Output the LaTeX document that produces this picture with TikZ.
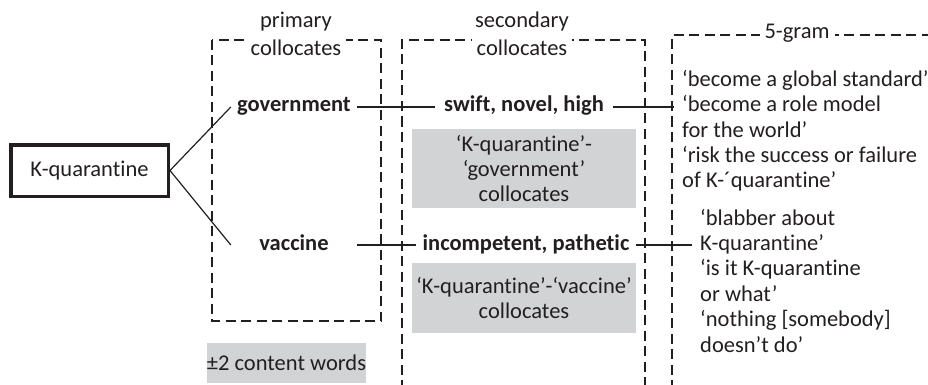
\documentclass[tikz,border=0pt]{standalone}
\usepackage{fontspec}
\setmainfont[Ligatures={NoCommon}]{Carlito}
\definecolor{txt}{HTML}{231F20}
\definecolor{graybox}{HTML}{D1D3D4}
\begin{document}
\begin{tikzpicture}[x=1pt,y=-1pt,
  every node/.style={text=txt, font=\fontsize{22.5}{25}\selectfont},
  dbox/.style={draw=txt, line width=1.2pt, dash pattern=on 10pt off 5.5pt},
  conn/.style={draw=txt, line width=1.2pt},
  word/.style={font=\fontsize{22.5}{25}\selectfont\bfseries, inner ysep=0pt, text height=15pt, text depth=5pt},
  gbox/.style={fill=graybox, inner sep=0pt, align=center},
  ttl/.style={fill=white, inner xsep=5pt, inner ysep=1pt},
  ng/.style={anchor=west, inner xsep=8pt, inner ysep=0pt, text height=15pt, text depth=5pt}
]
\fill[white] (0,0) rectangle (928,385);
\clip (0,0) rectangle (928,385);
\useasboundingbox (0,0) rectangle (928,385);

% dashed frames
\draw[dbox] (212,40) rectangle (381,321);
\draw[dbox] (402,390) -- (402,40) -- (645,40) -- (645,390);
\draw[dbox] (672,390) -- (672,35) -- (935,35);

% titles
\node (t1a) at (296,22) {primary};
\node[ttl] (t1b) at (296,48) {collocates};
\node (t2a) at (522,22) {secondary};
\node[ttl] (t2b) at (522,48) {collocates};
\node[ttl] (t3) at (797,33) {5-gram};

% main node
\node[draw=txt, line width=3.5pt, minimum width=157.5pt, minimum height=51.5pt, inner sep=0pt] (kq) at (89.5,170.5) {K-quarantine};

% primary collocates
\node[word, minimum width=126pt, inner xsep=0pt] (gov) at (294,107) {government};
\node[word, minimum width=126pt, inner xsep=0pt] (vac) at (294,245) {vaccine};

% secondary collocates
\node[word, inner xsep=9pt] (sw) at (524,107) {swift, novel, high};
\node[word, inner xsep=6pt] (inc) at (526,245) {incompetent, pathetic};

% gray boxes
\node[gbox, minimum width=224pt, minimum height=79pt] (g1) at (524,168.5) {‘K-quarantine’-\\‘government’\\collocates};
\node[gbox, minimum width=224pt, minimum height=70pt] (g2) at (524,298) {‘K-quarantine’-‘vaccine’\\collocates};
\node[gbox, minimum width=139pt, minimum height=40pt] (g3) at (286.5,363) {±2 content words};

% 5-grams
\node[ng] (r1) at (674,82) {‘become a global standard’};
\node[ng] (r2) at (674,107) {‘become a role model};
\node[ng] (r3) at (674,132) {for the world’};
\node[ng] (r4) at (674,157) {‘risk the success or failure};
\node[ng] (r5) at (674,182) {of K-´quarantine’};

\node[ng] (s1) at (692,220) {‘blabber about};
\node[ng] (s2) at (692,245) {K-quarantine’};
\node[ng] (s3) at (692,270.5) {‘is it K-quarantine};
\node[ng] (s4) at (692,296) {or what’};
\node[ng] (s5) at (692,321.5) {‘nothing [somebody]};
\node[ng] (s6) at (692,347) {doesn’t do’};

% connectors
\draw[conn] (kq.east) -- (gov.west);
\draw[conn] (kq.east) -- (vac.west);
\draw[conn] (gov.east) -- (sw.west);
\draw[conn] (vac.east) -- (inc.west);
\draw[conn] (sw.east) -- (r2.west);
\draw[conn] (inc.east) -- (s2.west);
\end{tikzpicture}
\end{document}
